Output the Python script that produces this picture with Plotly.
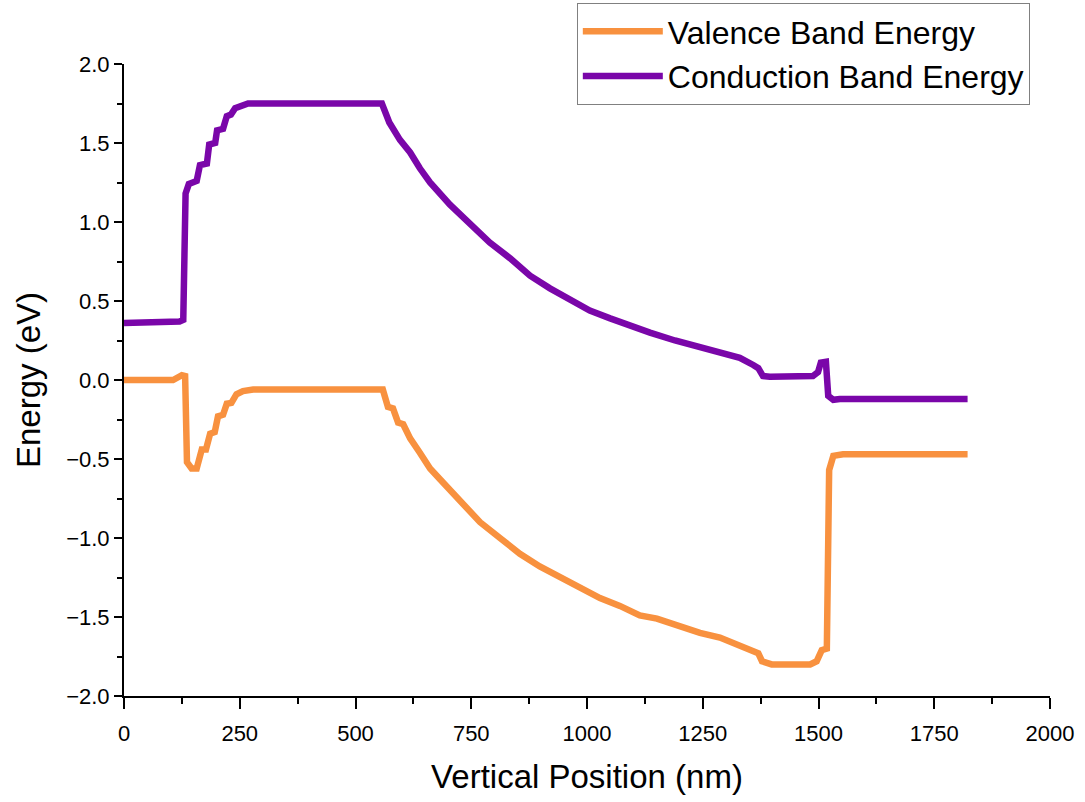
import plotly.graph_objects as go

# Conduction band (x in nm, energy in eV)
cb_x = [0, 100, 112, 120, 128, 133, 140, 150, 157, 164, 179, 184, 197, 201, 214, 222, 231, 240, 268,
        557, 565, 573, 596, 618, 639, 661, 704, 747, 790, 834, 877, 920, 963, 1006, 1050, 1093, 1136,
        1190, 1244, 1287, 1330, 1359, 1370, 1380, 1395, 1488, 1499, 1505, 1516, 1521, 1532, 1546, 1822]
cb_y = [0.36, 0.36, 0.36, 0.37, 0.38, 1.18, 1.24, 1.25, 1.26, 1.36, 1.37, 1.49, 1.50, 1.58, 1.59, 1.67, 1.68, 1.72, 1.75,
        1.75, 1.68, 1.63, 1.52, 1.44, 1.34, 1.25, 1.11, 0.99, 0.87, 0.77, 0.66, 0.58, 0.51, 0.44, 0.39, 0.34, 0.30,
        0.25, 0.21, 0.18, 0.14, 0.095, 0.075, 0.025, 0.02, 0.025, 0.05, 0.11, 0.115, -0.10, -0.125, -0.12, -0.12]

# Valence band
vb_x = [0, 106, 125, 132, 136, 146, 157, 168, 177, 186, 196, 203, 214, 222, 232, 243, 257, 279,
        559, 570, 581, 592, 603, 618, 639, 661, 683, 726, 769, 812, 855, 898, 942, 985, 1028, 1071, 1114, 1151,
        1200, 1244, 1287, 1330, 1359, 1370, 1378, 1399, 1482, 1496, 1507, 1518, 1523, 1532, 1553, 1822]
vb_y = [0.0, 0.0, 0.03, 0.025, -0.52, -0.56, -0.56, -0.44, -0.44, -0.34, -0.33, -0.23, -0.22, -0.15, -0.145, -0.09, -0.07, -0.06,
        -0.06, -0.17, -0.18, -0.27, -0.28, -0.37, -0.46, -0.56, -0.63, -0.77, -0.90, -1.00, -1.10, -1.18, -1.25, -1.32, -1.38, -1.43, -1.49, -1.51,
        -1.56, -1.60, -1.63, -1.68, -1.72, -1.73, -1.78, -1.80, -1.80, -1.78, -1.71, -1.70, -0.57, -0.48, -0.47, -0.47]

x_ticks = [0, 250, 500, 750, 1000, 1250, 1500, 1750, 2000]
y_ticks = [-2.0, -1.5, -1.0, -0.5, 0.0, 0.5, 1.0, 1.5, 2.0]

FONT = "Liberation Sans, Arial, sans-serif"
ORANGE = "#F8913F"
PURPLE = "#7A06A9"

fig = go.Figure()
fig.add_trace(go.Scatter(x=vb_x, y=vb_y, mode="lines", name="Valence Band Energy",
                         line=dict(color=ORANGE, width=6.5)))
fig.add_trace(go.Scatter(x=cb_x, y=cb_y, mode="lines", name="Conduction Band Energy",
                         line=dict(color=PURPLE, width=6.5)))

fig.update_layout(
    width=1085, height=802,
    margin=dict(l=124, r=35, t=64, b=106, autoexpand=False),
    paper_bgcolor="white", plot_bgcolor="white",
    font=dict(family=FONT, color="black"),
    showlegend=True,
    legend=dict(x=0.489, y=1 - 3 / 802, xref="paper", yref="container",
                xanchor="left", yanchor="top",
                bordercolor="#808080", borderwidth=1, bgcolor="white",
                font=dict(size=32, family=FONT), itemwidth=80,
                tracegroupgap=0),
    xaxis=dict(range=[0, 2000], tickvals=x_ticks, showgrid=False, zeroline=False,
               showline=True, linecolor="black", linewidth=2,
               ticks="outside", ticklen=11, tickwidth=2, tickcolor="black",
               minor=dict(ticks="outside", ticklen=6, tickwidth=2, tickcolor="black", dtick=125, tick0=0),
               tickfont=dict(size=22, family=FONT), ticklabelstandoff=6,
               title=dict(text="Vertical Position (nm)", font=dict(size=33, family=FONT), standoff=19)),
    yaxis=dict(range=[-2.0, 2.0], tickvals=y_ticks, tickformat=".1f", showgrid=False, zeroline=False,
               showline=True, linecolor="black", linewidth=2,
               ticks="outside", ticklen=8, tickwidth=2, tickcolor="black",
               minor=dict(ticks="outside", ticklen=5, tickwidth=2, tickcolor="black", dtick=0.25, tick0=0),
               tickfont=dict(size=22, family=FONT),
               title=dict(text="Energy (eV)", font=dict(size=33, family=FONT), standoff=16)),
)

fig.write_html("out.html")
